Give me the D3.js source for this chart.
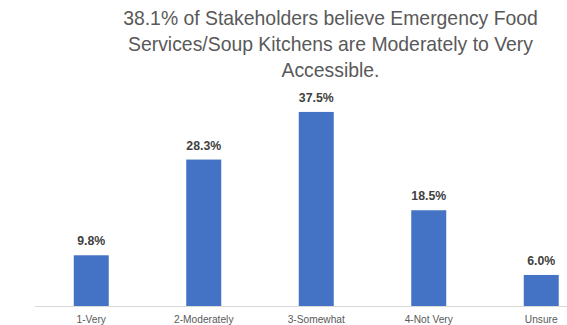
<!DOCTYPE html>
<html>
<head>
<meta charset="utf-8">
<script src="https://cdn.jsdelivr.net/npm/d3@7"></script>
<style>
  body { margin: 0; background: #fff; }
  svg { display: block; }
</style>
</head>
<body>
<svg id="chart" width="567" height="325"></svg>
<script>
// Chart data
const categories = ["1-Very", "2-Moderately", "3-Somewhat", "4-Not Very", "Unsure"];
const percents = [9.8, 28.3, 37.5, 18.5, 6.0];
const titleLines = [
  "38.1% of Stakeholders believe Emergency Food",
  "Services/Soup Kitchens are Moderately to Very",
  "Accessible."
];

const svg = d3.select("#chart");
const font = "'Liberation Sans', Arial, sans-serif";

// x: equal slots, the last one runs past the right edge (chart is cropped)
const x = d3.scaleBand()
  .domain(categories)
  .range([35, 597.5])
  .paddingInner(0.689)
  .paddingOuter(0.3445);

const y = d3.scaleLinear()
  .domain([0, 40])
  .range([306, 99]);

// title, sized so the first line spans about 415px
const title = svg.append("g")
  .attr("font-family", font)
  .attr("fill", "#595959")
  .attr("text-anchor", "middle");

title.selectAll("text")
  .data(titleLines)
  .enter()
  .append("text")
  .attr("x", 330.5)
  .attr("y", (d, i) => 25 + i * 26)
  .style("font-size", "20px")
  .text(d => d);

const w = title.select("text").node().getComputedTextLength();
title.selectAll("text").style("font-size", (20 * 415 / w) + "px");

// bars
svg.append("g")
  .selectAll("rect")
  .data(percents)
  .enter()
  .append("rect")
  .attr("x", (d, i) => x(categories[i]))
  .attr("y", d => y(d))
  .attr("width", x.bandwidth())
  .attr("height", d => y(0) - y(d))
  .attr("fill", "#4472c4");

// baseline
svg.append("line")
  .attr("x1", 35)
  .attr("x2", 597.5)
  .attr("y1", y(0) + 0.5)
  .attr("y2", y(0) + 0.5)
  .attr("stroke", "#d9d9d9")
  .attr("stroke-width", 1);

// value labels
svg.append("g")
  .selectAll("text")
  .data(percents)
  .enter()
  .append("text")
  .attr("x", (d, i) => x(categories[i]) + x.bandwidth() / 2)
  .attr("y", d => y(d) - 10)
  .attr("text-anchor", "middle")
  .attr("font-family", font)
  .attr("font-weight", "bold")
  .style("font-size", "12.3px")
  .attr("fill", "#404040")
  .text(d => d.toFixed(1) + "%");

// category labels
svg.append("g")
  .selectAll("text")
  .data(categories)
  .enter()
  .append("text")
  .attr("x", d => x(d) + x.bandwidth() / 2)
  .attr("y", 323)
  .attr("text-anchor", "middle")
  .attr("font-family", font)
  .style("font-size", "10.2px")
  .attr("fill", "#595959")
  .text(d => d);
</script>
</body>
</html>
